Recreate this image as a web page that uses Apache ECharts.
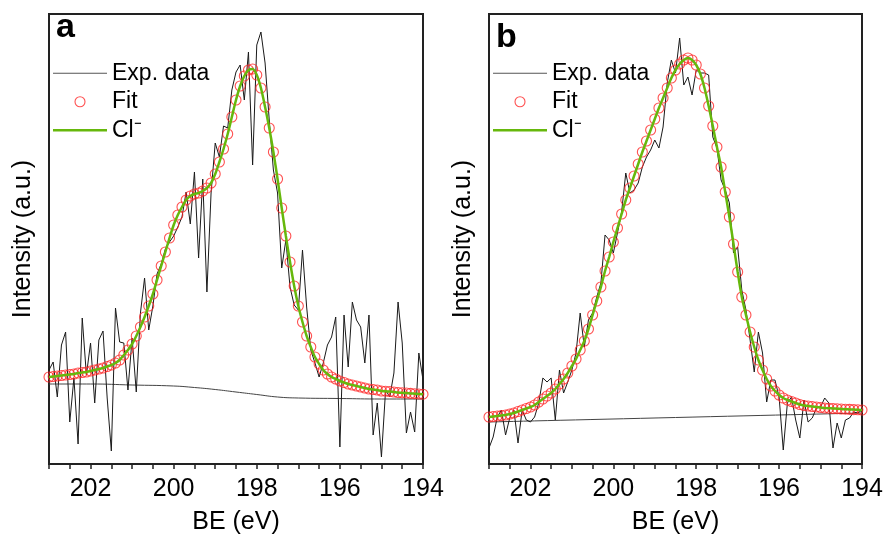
<!DOCTYPE html>
<html><head><meta charset="utf-8">
<script src="https://cdn.jsdelivr.net/npm/echarts@6/dist/echarts.min.js"></script>
<style>html,body{margin:0;padding:0;background:#fff}#c{width:885px;height:538px}</style>
</head><body><div id="c"></div>
<script>
// Binding energy grid (eV), 0.1 eV steps from 203.0 down to 194.0
const energy = Array.from({length: 91}, (_, k) => +(203 - 0.1 * k).toFixed(1));
const xTickLabels = ['202', '200', '198', '196', '194'];

// Panel a
const expA = [94,102,67,119,132,42,86,20,146,89,121,61,124,133,66,13,156,122,121,74,
  126,72,151,186,134,158,190,200,215,222,228,237,247,272,240,292,206,285,172,271,
  321,307,338,336,374,392,399,364,412,299,419,432,401,344,294,271,196,224,177,159,
  154,214,157,114,101,87,101,119,127,147,17,149,97,162,144,137,101,149,29,61,
  7,74,67,91,162,121,31,52,32,111,84];
const fitA = [87,87.5,88,88.5,89,89.5,90,91,91.5,92,93,94,95,96,97.5,99,101,104,109,114,
  120,128,137,147,158,170,184,198,212,226,239,249,257,264,268,270,271,273,276,281,
  290,302,315,330,347,364,378,388,394,395,389,376,357,336,312,285,256,228,202,178,
  158,142,128,117,107,100,94,90,87,85,83,81.5,80,79,78,77,76,75,74.5,74,
  73,72.8,72.5,72,71.5,71.2,71,70.6,70.3,70,69.8];
const clA = fitA;
const bgAEnergy = [203,202,201,200,199.5,199,198.5,198,197.5,197,196,195,194];
const bgAValues = [80,80,79,78,76.5,74.5,72,69.5,67,66,65.5,65,65];

// Panel b
const expB = [16,27,47,54,29,46,54,21,54,44,42,47,61,86,82,86,44,94,71,82,
  94,111,151,117,144,151,167,181,229,224,211,231,252,291,271,274,281,297,307,314,
  324,316,337,381,404,391,426,379,387,369,394,391,391,389,327,316,284,274,261,211,
  217,174,154,124,92,132,111,62,84,84,67,14,61,67,44,26,64,42,46,56,
  57,66,61,16,41,26,44,46,52,51,54];
const fitB = [47,47.5,48,48.5,49,50,51,52.5,54,55.5,57,59,62,65,68,71,75,80,85,91,
  98,105,114,123,135,149,163,177,193,207,222,236,250,264,276,288,300,312,323,334,
  345,356,366,376,386,394,400,404,406,404,399,390,376,358,338,317,297,272,247,220,
  192,167,149,132,117,104,94,85,78,73,69,66,64,62.5,61,59.5,58.5,58,57.5,57,
  56.5,56,55.8,55.5,55.3,55,54.8,54.6,54.4,54.2,54];
const clB = fitB;
const bgBEnergy = [203,194];
const bgBValues = [42,51];

const FONT = "Arial, 'Liberation Sans', sans-serif";
const RED = '#ff2626';
const GREEN = '#66b80c';
const pair = (xs, ys) => ys.map((v, i) => [xs[i], v]);
const chart = echarts.init(document.getElementById('c'));

const grids = [
  {left: 49, top: 14, width: 374, height: 450},
  {left: 489, top: 14, width: 373, height: 450}
].map(g => Object.assign(g, {show: true, borderColor: '#222', borderWidth: 2, outerBoundsMode: 'none', containLabel: false}));

function xAxis(i) {
  return {
    gridIndex: i, type: 'value', min: 194, max: 203, inverse: true, interval: 0.5,
    axisLine: {show: true, onZero: false, lineStyle: {color: '#222', width: 2}},
    axisTick: {show: true, length: 5, lineStyle: {color: '#222', width: 1.5}},
    axisLabel: {
      fontSize: 25, color: '#000', fontFamily: FONT, margin: 13,
      formatter: v => { const s = String(Math.round(v * 10) / 10); return xTickLabels.indexOf(s) >= 0 ? s : ''; }
    },
    splitLine: {show: false},
    name: 'BE (eV)', nameLocation: 'middle', nameGap: 46,
    nameTextStyle: {fontSize: 25, color: '#000', fontFamily: FONT}
  };
}
function yAxis(i) {
  return {
    gridIndex: i, type: 'value', min: 0, max: 450,
    axisLine: {show: true, onZero: false, lineStyle: {color: '#222', width: 2}},
    axisTick: {show: false}, axisLabel: {show: false}, splitLine: {show: false},
    name: 'Intensity (a.u.)', nameLocation: 'middle', nameGap: 13, nameRotate: 90,
    nameTextStyle: {fontSize: 25, color: '#000', fontFamily: FONT}
  };
}
function seriesFor(i, exp, fit, cl, bgX, bgY) {
  return [
    {type: 'line', name: 'bg', xAxisIndex: i, yAxisIndex: i, data: pair(bgX, bgY), smooth: true,
     symbol: 'none', lineStyle: {color: '#444', width: 1}, z: 2, silent: true},
    {type: 'line', name: 'Exp. data', xAxisIndex: i, yAxisIndex: i, data: pair(energy, exp),
     symbol: 'none', lineStyle: {color: '#1a1a1a', width: 1}, itemStyle: {color: '#555'}, z: 3},
    {type: 'scatter', name: 'Fit', xAxisIndex: i, yAxisIndex: i, data: pair(energy, fit),
     symbol: 'circle', symbolSize: 10,
     itemStyle: {color: 'rgba(0,0,0,0)', borderColor: RED, borderWidth: 1.1}, z: 4},
    {type: 'line', name: 'Cl\u207B', xAxisIndex: i, yAxisIndex: i, data: pair(energy, cl), smooth: 0.3,
     symbol: 'none', lineStyle: {color: GREEN, width: 2.5}, itemStyle: {color: GREEN}, z: 5}
  ];
}
function legend(left) {
  return {
    orient: 'vertical', left: left, top: 59, padding: 0, itemGap: 0, itemWidth: 54, itemHeight: 10,
    selectedMode: false,
    textStyle: {fontSize: 23, color: '#000', fontFamily: FONT, lineHeight: 28.5},
    data: [
      {name: 'Exp. data', icon: 'path://M0,0 L54,0 L54,1.2 L0,1.2 Z', itemStyle: {color: '#555', borderWidth: 0}},
      {name: 'Fit', icon: 'circle', itemStyle: {color: 'rgba(0,0,0,0)', borderColor: RED, borderWidth: 1.1}},
      {name: 'Cl\u207B', icon: 'path://M0,0 L54,0 L54,2.5 L0,2.5 Z', itemStyle: {color: GREEN, borderWidth: 0}}
    ]
  };
}

chart.setOption({
  animation: false,
  backgroundColor: '#fff',
  grid: grids,
  xAxis: [xAxis(0), xAxis(1)],
  yAxis: [yAxis(0), yAxis(1)],
  legend: [legend(53), legend(493)],
  graphic: [
    {type: 'text', left: 56, top: 11, style: {text: 'a', font: 'bold 34px ' + FONT, fill: '#000'}},
    {type: 'text', left: 496, top: 21, style: {text: 'b', font: 'bold 34px ' + FONT, fill: '#000'}}
  ],
  series: seriesFor(0, expA, fitA, clA, bgAEnergy, bgAValues)
    .concat(seriesFor(1, expB, fitB, clB, bgBEnergy, bgBValues))
});
</script>
</body></html>
